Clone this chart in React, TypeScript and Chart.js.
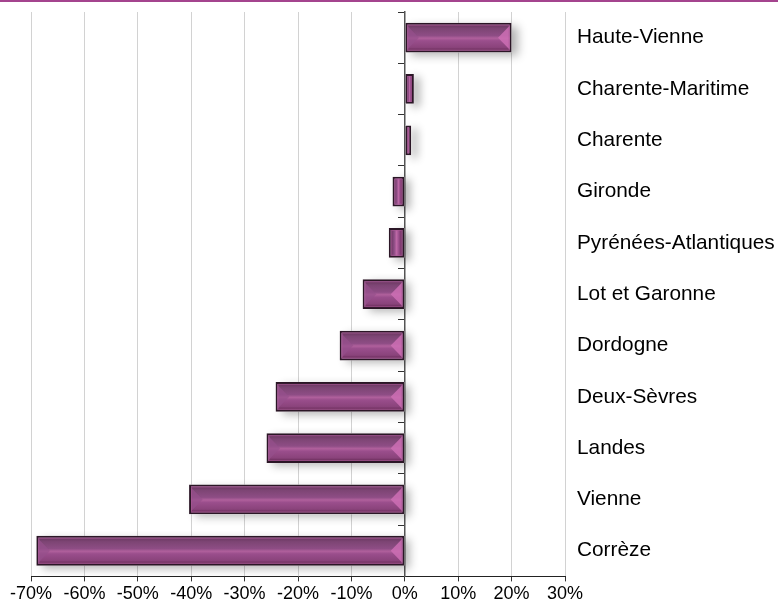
import React, { useEffect, useRef } from 'react';
import { Chart, registerables } from 'chart.js';

Chart.register(...registerables);

const categories = [
  'Haute-Vienne',
  'Charente-Maritime',
  'Charente',
  'Gironde',
  'Pyrénées-Atlantiques',
  'Lot et Garonne',
  'Dordogne',
  'Deux-Sèvres',
  'Landes',
  'Vienne',
  'Corrèze',
];
const changes = [20.0, 1.7, 1.2, -2.3, -3.0, -7.9, -12.2, -24.2, -25.9, -40.4, -69.0];
const xMin = -70;
const xMax = 30;
const xStep = 10;

const FONT = "'Liberation Sans', Arial, sans-serif";

const bevelPlugin = {
  id: 'bevel',
  beforeDatasetsDraw(chart: any) {
    const ctx = chart.ctx;
    const meta = chart.getDatasetMeta(0);
    ctx.save();
    ctx.shadowColor = 'rgba(0,0,0,0.30)';
    ctx.shadowBlur = 9;
    ctx.shadowOffsetX = 6;
    ctx.shadowOffsetY = 3;
    ctx.fillStyle = '#ffffff';
    meta.data.forEach((el: any) => {
      const { x, y, base, height } = el.getProps(['x', 'y', 'base', 'height'], true);
      const left = Math.min(x, base);
      const w = Math.abs(x - base);
      ctx.fillRect(left, y - height / 2, w, height);
    });
    ctx.restore();
  },
  afterDatasetsDraw(chart: any) {
    const ctx = chart.ctx;
    const meta = chart.getDatasetMeta(0);
    const bw = 2;
    ctx.save();
    meta.data.forEach((el: any) => {
      const { x, y, base, height } = el.getProps(['x', 'y', 'base', 'height'], true);
      const L = Math.min(x, base) + bw;
      const R = Math.max(x, base) - bw;
      const T = y - height / 2 + bw;
      const B = y + height / 2 - bw;
      const w = R - L;
      const h = B - T;
      if (w <= 0 || h <= 0) return;
      if (w >= h) {
        const g = ctx.createLinearGradient(0, T, 0, B);
        g.addColorStop(0, '#6a3660');
        g.addColorStop(0.15, '#7d4574');
        g.addColorStop(0.42, '#8e4d85');
        g.addColorStop(0.52, '#b0609c');
        g.addColorStop(0.62, '#9a4e8c');
        g.addColorStop(0.88, '#8a437b');
        g.addColorStop(1, '#652955');
        ctx.fillStyle = g;
        ctx.fillRect(L, T, w, h);
        const d = h / 2;
        const mid = (T + B) / 2;
        ctx.fillStyle = 'rgba(205,110,180,0.85)';
        ctx.beginPath();
        ctx.moveTo(R, T + 1);
        ctx.lineTo(R, B - 1);
        ctx.lineTo(R - d * 0.9, mid);
        ctx.closePath();
        ctx.fill();
        ctx.fillStyle = 'rgba(150,80,140,0.7)';
        ctx.beginPath();
        ctx.moveTo(L, T + 1);
        ctx.lineTo(L, B - 1);
        ctx.lineTo(L + d * 0.9, mid);
        ctx.closePath();
        ctx.fill();
      } else {
        const g = ctx.createLinearGradient(L, 0, R, 0);
        g.addColorStop(0, '#6a3660');
        g.addColorStop(0.3, '#8e4d85');
        g.addColorStop(0.5, '#bd68a6');
        g.addColorStop(0.7, '#9a4e8c');
        g.addColorStop(1, '#652955');
        ctx.fillStyle = g;
        ctx.fillRect(L, T, w, h);
      }
      ctx.strokeStyle = 'rgba(170,90,150,0.6)';
      ctx.lineWidth = 1;
      ctx.strokeRect(L + 0.5, T + 0.5, w - 1, h - 1);
    });
    ctx.restore();
  },
};

function ChartView() {
  const ref = useRef<HTMLCanvasElement | null>(null);
  useEffect(() => {
    if (!ref.current) return;
    const chart = new Chart(ref.current, {
      type: 'bar',
      data: {
        labels: categories,
        datasets: [
          {
            data: changes,
            yAxisID: 'y',
            xAxisID: 'x',
            backgroundColor: '#94498a',
            borderColor: '#2b1626',
            borderWidth: 2,
            borderSkipped: false,
            barPercentage: 0.58,
            categoryPercentage: 1,
          },
        ],
      },
      options: {
        indexAxis: 'y',
        animation: false,
        responsive: true,
        maintainAspectRatio: false,
        layout: { padding: { top: 12, left: 31, right: 0, bottom: 0 } },
        plugins: {
          legend: { display: false },
          tooltip: { enabled: false },
        },
        scales: {
          x: {
            type: 'linear',
            position: 'bottom',
            min: xMin,
            max: xMax,
            ticks: {
              stepSize: xStep,
              callback: (v: any) => `${v}%`,
              font: { family: FONT, size: 18 },
              color: '#000',
              padding: 2,
              maxRotation: 0,
            },
            grid: {
              color: '#d2d2d2',
              lineWidth: 1,
              tickColor: '#333',
              tickLength: 5,
            },
            border: { display: true, color: '#222', width: 1 },
          },
          y: {
            type: 'category',
            position: 'right',
            offset: true,
            afterFit: (scale: any) => {
              scale.width = 213;
              scale.paddingTop = 0;
              scale.paddingBottom = 0;
            },
            ticks: {
              font: { family: FONT, size: 20.8 },
              color: '#000',
              padding: 12,
            },
            grid: { display: false, drawTicks: false },
            border: { display: false },
          },
          y2: {
            type: 'category',
            position: { x: 0 },
            offset: true,
            afterFit: (scale: any) => {
              scale.paddingTop = 0;
              scale.paddingBottom = 0;
            },
            ticks: { display: false },
            grid: {
              offset: true,
              drawOnChartArea: false,
              drawTicks: true,
              tickLength: 6,
              tickColor: '#333',
            },
            border: { display: true, color: '#555', width: 1.5 },
          },
        },
      },
      plugins: [bevelPlugin],
    } as any);
    return () => chart.destroy();
  }, []);
  return <canvas ref={ref} />;
}

export default function App() {
  return (
    <div
      style={{
        position: 'fixed',
        left: 0,
        top: 0,
        width: 778,
        height: 607,
        background: '#fff',
        fontFamily: FONT,
      }}
    >
      <div style={{ position: 'absolute', left: 0, top: 0, width: 778, height: 607 }}>
        <ChartView />
      </div>
      <div
        style={{
          position: 'absolute',
          left: 0,
          top: 0,
          width: '100%',
          height: 2,
          background: '#a4448e',
        }}
      />
    </div>
  );
}
